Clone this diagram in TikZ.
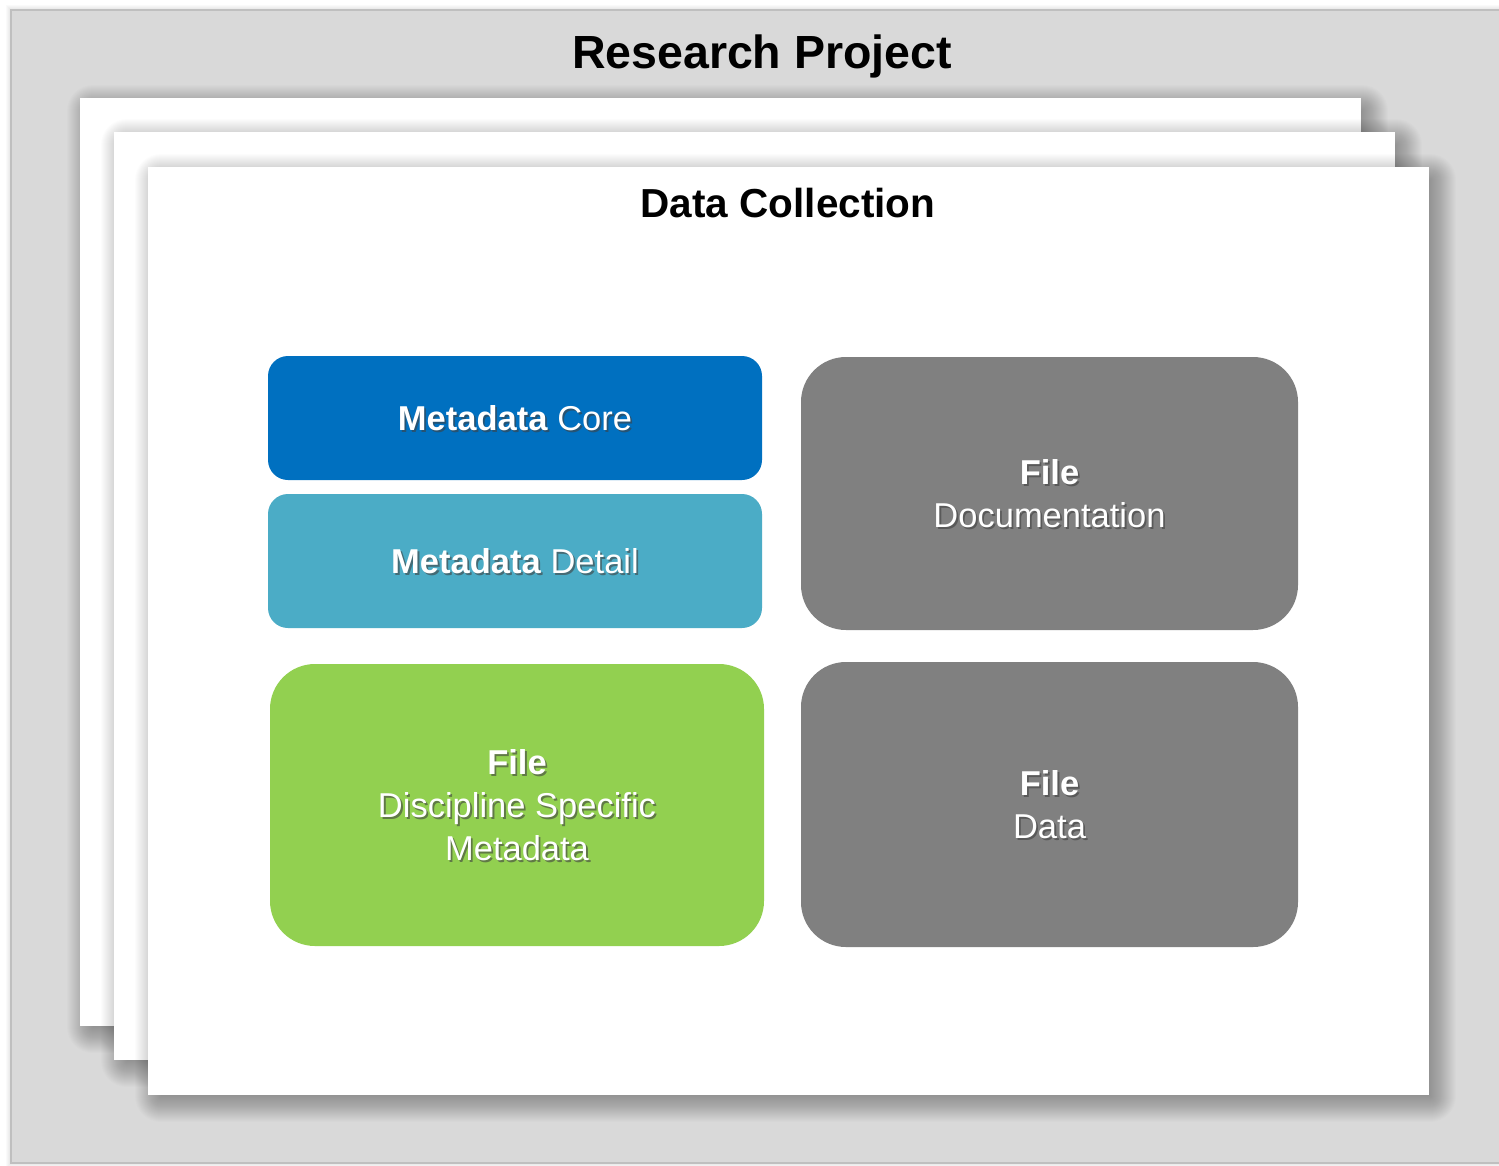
\documentclass[tikz,border=0pt]{standalone}
\usepackage{fontspec}
\setmainfont{Liberation Sans}
\definecolor{outerfill}{HTML}{D9D9D9}
\definecolor{outerline}{HTML}{BFBFBF}
\definecolor{corecol}{HTML}{0070C0}
\definecolor{detailcol}{HTML}{4BACC6}
\definecolor{greencol}{HTML}{92D050}
\definecolor{graycol}{HTML}{808080}
\tikzset{
  page/.style={fill=white, draw=none},
  softshade/.style={fill=black, fill opacity=0.013, draw=none},
  tile/.style={draw=none, inner sep=0pt},
  boxtext/.style={text=white, align=center, font=\fontsize{34.5}{43}\selectfont},
  boxshadow/.style={text=black!75, opacity=0.6, align=center, font=\fontsize{34.5}{43}\selectfont},
  title/.style={anchor=base, font=\bfseries}
}
\newcommand{\shadowed}[3]{%
  \node[boxshadow] (#1s) at ([xshift=1.8pt,yshift=-1.8pt]#2) {#3};
  \node[boxtext] (#1) at (#2) {#3};
}
% soft shadow: x1 y1 x2 y2
\newcommand{\softshadow}[4]{%
  \foreach \k in {1,...,40}{%
    \pgfmathsetmacro{\e}{-20+\k}%
    \pgfmathsetmacro{\rr}{max(0.5,\e+6)}%
    \fill[softshade, rounded corners=\rr pt] ({#1+7-\e},{#2+7-\e}) rectangle ({#3+7+\e},{#4+7+\e});
  }%
}
\begin{document}
\begin{tikzpicture}[x=1pt,y=-1pt]
\useasboundingbox (0,0) rectangle (1499,1165);
\fill[white] (0,0) rectangle (1499,1165);
\begin{scope}
\clip (0,0) rectangle (1499,1165);
\foreach \k in {1,...,5}{\fill[black, fill opacity=0.02] ({11-\k},{10-\k}) rectangle ({1520+\k},{1163+\k});}
\draw[fill=outerfill, draw=outerline, line width=2pt] (11,10) rectangle (1520,1163);
\end{scope}
% pages
\softshadow{80}{98}{1361}{1026}
\fill[page] (80,98) rectangle (1361,1026);
\softshadow{114}{132}{1395}{1060}
\fill[page] (114,132) rectangle (1395,1060);
\softshadow{148}{167}{1429}{1095}
\fill[page] (148,167) rectangle (1429,1095);
% titles
\node[title, font=\bfseries\fontsize{46.5}{50}\selectfont] (rp) at (762,68) {Research Project};
\node[title, font=\bfseries\fontsize{40.5}{44}\selectfont] (dc) at (788,217) {Data Collection};
% tiles
\node[tile, fill=corecol, rounded corners=20pt, minimum width=494pt, minimum height=124pt] (core) at (515,418) {};
\node[tile, fill=detailcol, rounded corners=20pt, minimum width=494pt, minimum height=134pt] (detail) at (515,561) {};
\node[tile, fill=greencol, rounded corners=45pt, minimum width=494pt, minimum height=282pt] (dsm) at (517,805) {};
\node[tile, fill=graycol, rounded corners=45pt, minimum width=497pt, minimum height=273pt] (doc) at (1049.5,493.5) {};
\node[tile, fill=graycol, rounded corners=45pt, minimum width=497pt, minimum height=285pt] (data) at (1049.5,804.5) {};
% texts
\shadowed{tcore}{core.center}{\textbf{Metadata} Core}
\shadowed{tdetail}{detail.center}{\textbf{Metadata} Detail}
\shadowed{tdsm}{dsm.center}{\textbf{File}\\Discipline Specific\\Metadata}
\shadowed{tdoc}{doc.center}{\textbf{File}\\Documentation}
\shadowed{tdata}{data.center}{\textbf{File}\\Data}
\end{tikzpicture}
\end{document}
